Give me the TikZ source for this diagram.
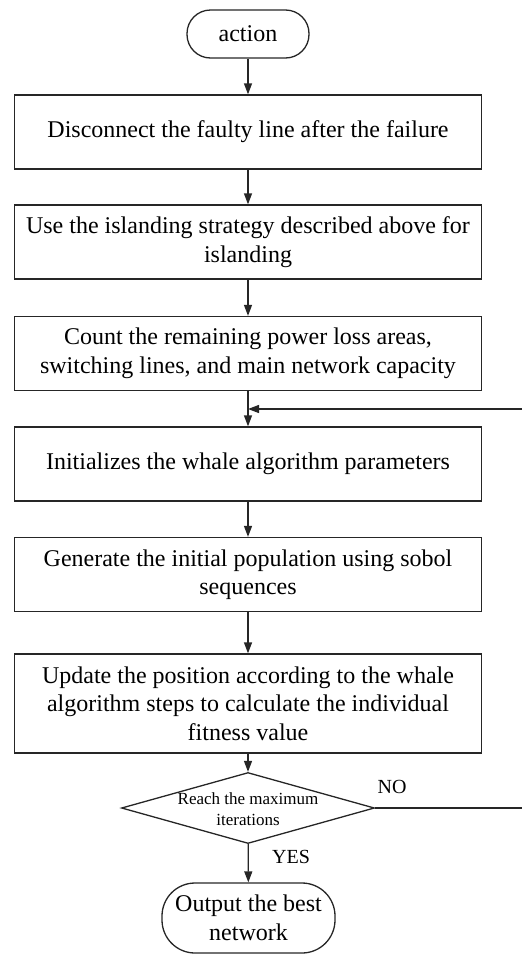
\documentclass[tikz,border=0pt]{standalone}
\usepackage{fontspec}
\setmainfont{Liberation Serif}
\usetikzlibrary{arrows.meta,shapes.geometric}
\begin{document}
\begin{tikzpicture}[x=1pt,y=-1pt,
  line/.style={draw=black!85,line width=1.3pt},
  arr/.style={line,-{Triangle[length=11pt,width=8pt]}},
  stepbox/.style={line,rectangle,minimum width=467pt,minimum height=74pt,inner sep=0pt,align=center,
     font=\fontsize{24}{28.5}\selectfont},
  term/.style={line,rectangle,inner sep=0pt,align=center,font=\fontsize{24}{29.5}\selectfont},
  dia/.style={line,diamond,inner sep=0pt,minimum width=253pt,minimum height=71pt},
  lab/.style={inner sep=0pt,font=\fontsize{20}{24}\selectfont}]
\useasboundingbox (0,0) rectangle (522,956);
\clip (0,0) rectangle (522,956);
\node[term,minimum width=122pt,minimum height=48pt,rounded corners=23.5pt] (start) at (248,34) {action};
\node[stepbox] (b1) at (248,132) {Disconnect the faulty line after the failure};
\node[stepbox] (b2) at (248,242) {Use the islanding strategy described above for\\islanding};
\node[stepbox] (b3) at (248,353.5) {Count the remaining power loss areas,\\switching lines, and main network capacity};
\node[stepbox] (b4) at (248,464) {Initializes the whale algorithm parameters};
\node[stepbox] (b5) at (248,574.5) {Generate the initial population using sobol\\sequences};
\node[stepbox,minimum height=99pt] (b6) at (248,703.5) {Update the position according to the whale\\algorithm steps to calculate the individual\\fitness value};
\node[dia] (dec) at (248,808) {};
\node[inner sep=0pt,align=center,font=\fontsize{17}{21}\selectfont] (dectext) at (248,809) {Reach the maximum\\iterations};
\node[term,minimum width=173pt,minimum height=70pt,rounded corners=33pt] (out) at (248.5,918) {Output the best\\network};
\coordinate (merge) at (248,409);
\coordinate (far) at (540,808);
\draw[arr] (start) -- (b1);
\draw[arr] (b1) -- (b2);
\draw[arr] (b2) -- (b3);
\draw[arr] (b3) -- (b4);
\draw[arr] (b4) -- (b5);
\draw[arr] (b5) -- (b6);
\draw[arr] (b6) -- (dec);
\draw[arr] (dec) -- (out);
\draw[arr] (dec.east) -- (far) |- (merge);
\node[lab] (no) at (392,787) {NO};
\node[lab] (yes) at (291,857) {YES};
\end{tikzpicture}
\end{document}
